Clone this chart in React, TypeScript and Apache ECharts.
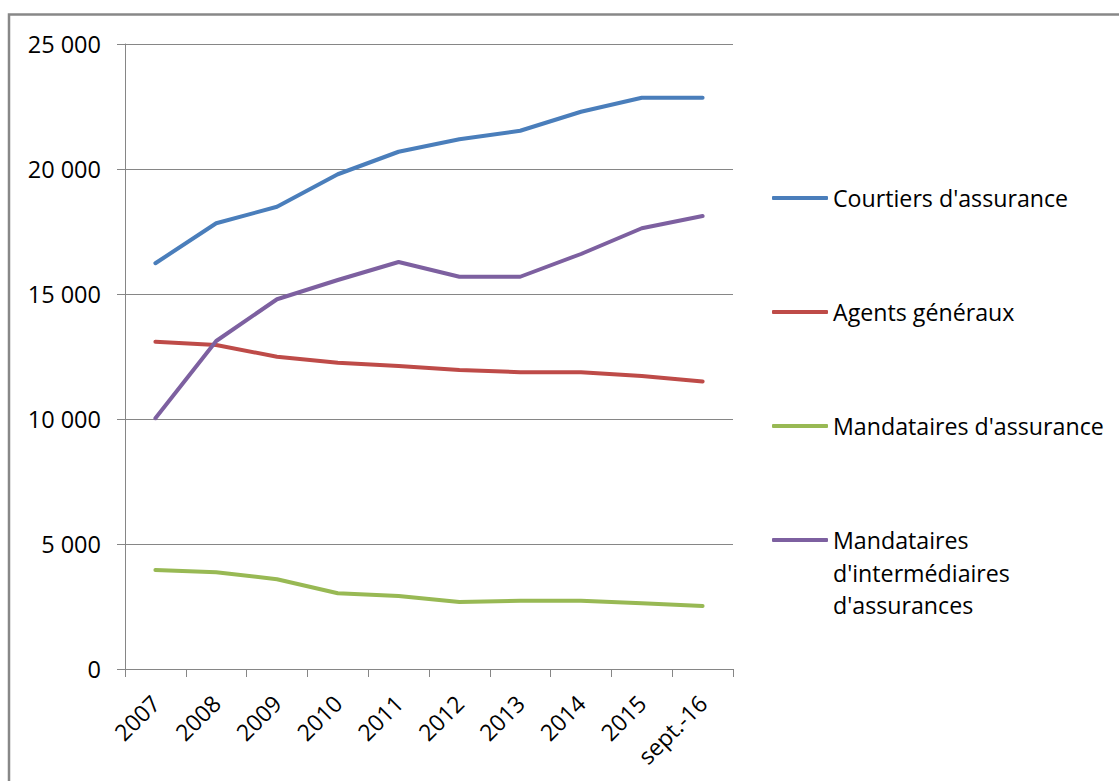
import React, { useEffect, useRef } from "react";
import * as echarts from "echarts";

const categories = ["2007", "2008", "2009", "2010", "2011", "2012", "2013", "2014", "2015", "sept.-16"];
const courtiers = [16230, 17830, 18490, 19790, 20690, 21190, 21530, 22290, 22850, 22850];
const agents = [13090, 12960, 12490, 12250, 12120, 11960, 11870, 11870, 11720, 11500];
const mandatairesAssurance = [3960, 3870, 3590, 3030, 2920, 2680, 2730, 2730, 2630, 2520];
const mandatairesIntermediaires = [10030, 13120, 14790, 15560, 16280, 15690, 15690, 16600, 17630, 18120];
const yTickValues = [0, 5000, 10000, 15000, 20000, 25000];
const yTickLabels = ["0", "5 000", "10 000", "15 000", "20 000", "25 000"];

const seriesNames = [
  "Courtiers d'assurance",
  "Agents généraux",
  "Mandataires d'assurance",
  "Mandataires d'intermédiaires d'assurances",
];
const colors = ["#4A7EBB", "#BE4B48", "#98B954", "#7D60A0"];

const FONT = "'Open Sans', 'Noto Sans', sans-serif";

export default function App() {
  const ref = useRef<HTMLDivElement>(null);
  useEffect(() => {
    if (!ref.current) return;
    const chart = echarts.init(ref.current, undefined, { renderer: "svg" });
    const seriesData = [courtiers, agents, mandatairesAssurance, mandatairesIntermediaires];
    const legendTops = [198, 312, 426, 540];
    const lh = 32.5;
    const legends = seriesNames.map((name, i) => {
      const multi = i === 3;
      return {
        show: true,
        orient: "vertical",
        left: 772,
        top: multi ? legendTops[i] - 2.5 * lh : legendTops[i] - lh / 2,
        padding: 0,
        data: [name],
        icon: "roundRect",
        itemWidth: 56,
        itemHeight: 4,
        selectedMode: false,
        formatter: multi ? () => "\n\nMandataires\nd'intermédiaires\nd'assurances" : undefined,
        textStyle: {
          fontFamily: FONT,
          fontSize: 23.2,
          color: "#000",
          lineHeight: lh,
        },
      };
    });
    chart.setOption({
      animation: false,
      backgroundColor: "#fff",
      graphic: [
        {
          type: "rect",
          shape: { x: 9, y: 14.5, width: 1300, height: 1000 },
          style: { fill: "none", stroke: "#888", lineWidth: 2.5 },
          silent: true,
        },
      ],
      grid: { left: 125, right: 386, top: 44, bottom: 112, containLabel: false },
      legend: legends,
      xAxis: {
        type: "category",
        data: categories,
        boundaryGap: true,
        axisLine: { show: true, lineStyle: { color: "#868686", width: 1 } },
        axisTick: { show: true, length: 8, alignWithLabel: false, lineStyle: { color: "#868686" } },
        axisLabel: {
          rotate: 45,
          margin: 30,
          fontFamily: FONT,
          fontSize: 23,
          color: "#000",
          interval: 0,
        },
        splitLine: { show: false },
      },
      yAxis: {
        type: "value",
        min: 0,
        max: 25000,
        interval: 5000,
        axisLine: { show: true, lineStyle: { color: "#868686", width: 1 } },
        axisTick: { show: true, length: 8, inside: false, lineStyle: { color: "#868686" } },
        splitLine: { show: true, lineStyle: { color: "#868686", width: 1 } },
        axisLabel: {
          margin: 24,
          fontFamily: FONT,
          fontSize: 23.5,
          color: "#000",
          formatter: (v: number) => yTickLabels[yTickValues.indexOf(v)] ?? String(v),
        },
      },
      series: seriesNames.map((name, i) => ({
        name,
        type: "line",
        data: seriesData[i],
        symbol: "none",
        smooth: false,
        color: colors[i],
        lineStyle: { width: 4, color: colors[i], cap: "round", join: "round" },
      })),
    });
    return () => chart.dispose();
  }, []);
  return (
    <div
      ref={ref}
      style={{ position: "absolute", left: 0, top: 0, width: 1119, height: 781 }}
    />
  );
}
